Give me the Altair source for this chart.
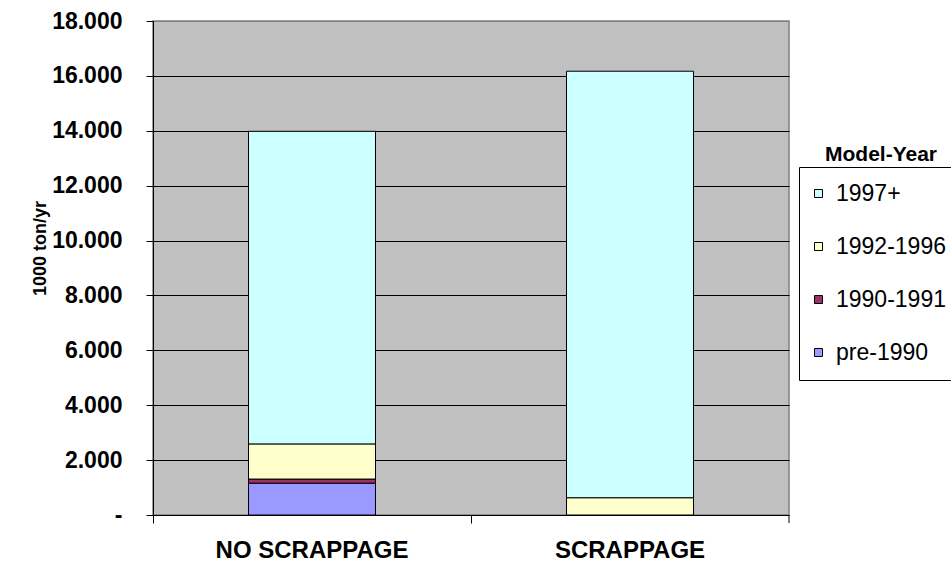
import altair as alt
import pandas as pd

# ---- data (values in tons/yr, axis shows thousands with '.' separator) ----
categories = ["NO SCRAPPAGE", "SCRAPPAGE"]
model_years = ["pre-1990", "1990-1991", "1992-1996", "1997+"]
no_scrappage = [1160, 150, 1280, 11390]
scrappage = [0, 0, 630, 15540]
legend_order = ["1997+", "1992-1996", "1990-1991", "pre-1990"]
legend_colors = ["#CCFFFF", "#FFFFCC", "#993366", "#9999FF"]
y_ticks = [0, 2000, 4000, 6000, 8000, 10000, 12000, 14000, 16000, 18000]
legend_title = ["Model-Year"]

rows = []
for cat, vals in zip(categories, [no_scrappage, scrappage]):
    for i, (my, v) in enumerate(zip(model_years, vals)):
        rows.append({"scenario": cat, "model_year": my, "value": v, "rank": i})
df = pd.DataFrame(rows)

FONT = "Liberation Sans"
W, H = 636, 494

bars = alt.Chart(df).transform_filter("datum.value > 0").mark_bar(
    size=127, stroke="black", strokeWidth=1
).encode(
    x=alt.X("scenario:N", sort=categories,
            scale=alt.Scale(paddingInner=0, paddingOuter=0),
            axis=alt.Axis(title=None, labelAngle=0, bandPosition=0, labelLimit=0,
                          labelFont=FONT, labelFontSize=24, labelFontWeight="bold",
                          labelColor="black", labelPadding=15,
                          domainColor="black", tickColor="black", tickSize=8,
                          grid=False)),
    y=alt.Y("value:Q", stack="zero",
            scale=alt.Scale(domain=[0, 18000], nice=False),
            axis=alt.Axis(values=y_ticks, title="1000 ton/yr",
                          labelExpr="datum.value == 0 ? '-\u00a0\u00a0\u00a0\u00a0' : replace(format(datum.value, ',d'), ',', '.')",
                          labelFont=FONT, labelFontSize=23, labelFontWeight="bold",
                          labelColor="black", labelPadding=24,
                          tickColor="black", tickSize=7, domainColor="black",
                          gridColor=alt.condition("datum.value == 18000", alt.value("#808080"), alt.value("black")),
                          gridWidth=1,
                          titleFont=FONT, titleFontSize=18, titleFontWeight="bold",
                          titleColor="black", titleAngle=270, titleX=-108, titleY=227,
                          titleAlign="center", titleBaseline="alphabetic")),
    color=alt.Color("model_year:N",
                    scale=alt.Scale(domain=legend_order, range=legend_colors),
                    legend=alt.Legend(title=None, orient="none", legendX=646, legendY=146,
                                      symbolType="square", symbolSize=64,
                                      symbolStrokeColor="black", symbolStrokeWidth=1,
                                      symbolOffset=-7,
                                      labelFont=FONT, labelFontSize=23, labelColor="black",
                                      labelOffset=6, rowPadding=29, padding=15,
                                      strokeColor="black", fillColor="white")),
    order=alt.Order("rank:Q", sort="ascending"),
)

end_tick = alt.Chart(pd.DataFrame({"a": [0]})).mark_rule(color="black", strokeWidth=1).encode(
    x=alt.value(W), y=alt.value(H), y2=alt.value(H + 8)
)

title_text = alt.Chart(pd.DataFrame({"t": legend_title})).mark_text(
    font=FONT, fontSize=21, fontWeight="bold", color="black", align="center", baseline="alphabetic"
).encode(text="t:N", x=alt.value(728), y=alt.value(140))

chart = alt.layer(bars, end_tick, title_text).properties(
    width=W, height=H,
    background="white",
    autosize=alt.AutoSizeParams(type="none"),
    padding={"left": 153, "top": 21, "right": 162, "bottom": 48},
).configure_view(
    fill="#C0C0C0", stroke="#808080", strokeWidth=1.5
)

chart.save("out.html", embed_options={"renderer": "svg", "actions": False})
